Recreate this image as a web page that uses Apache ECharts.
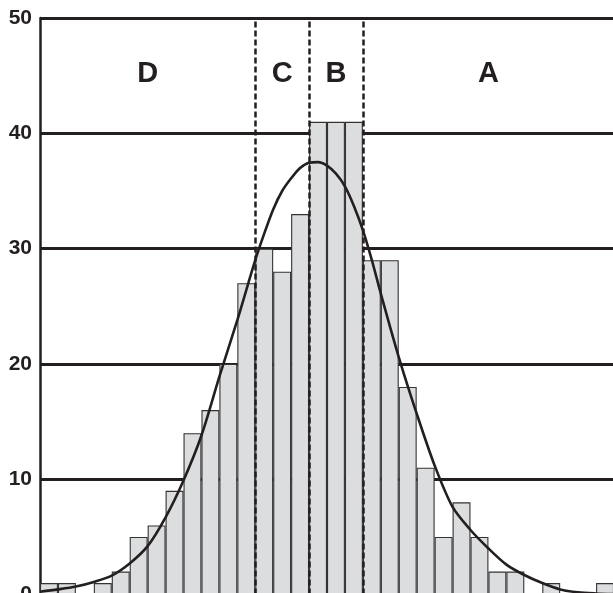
<!DOCTYPE html>
<html>
<head>
<meta charset="utf-8">
<script src="https://cdn.jsdelivr.net/npm/echarts@6/dist/echarts.min.js"></script>
<style>
html,body{margin:0;padding:0;background:#fff;}
#chart{width:613px;height:593px;}
</style>
</head>
<body>
<div id="chart"></div>
<script>
// Histogram counts per bin (32 bins)
const binCounts = [1,1,0,1,2,5,6,9,14,16,20,27,30,28,33,41,41,41,29,29,18,11,5,8,5,2,2,0,1,0,0,1];
// Fitted curve (x in bin units, y in counts)
const curveX = [0,1,2,3,4,5,6,7,8,9,10,11,12,12.5,13,13.5,14,14.5,15,15.5,16,16.5,17,17.5,18,18.5,19,20,21,22,23,24,25,26,27,28,29,30,31,32];
const curveY = [0.25,0.45,0.7,1.1,1.65,2.7,4.2,6.7,9.9,13.8,18.9,23.8,29.0,31.3,33.4,35.0,36.1,37.0,37.45,37.5,37.2,36.5,35.4,33.7,31.6,29.0,26.1,20.6,15.7,11.2,7.6,5.6,4.0,2.6,1.7,1.0,0.45,0.2,0.1,0.05];
// Zone boundaries (bin edges) and labels
const zoneBounds = [12,15,18];
const zoneLabels = ['D','C','B','A'];
const zoneLabelY = 45.15;
const yTicks = [0,10,20,30,40,50];

const nBins = binCounts.length;
const edges = [0].concat(zoneBounds, [nBins]);
const zoneCenters = zoneLabels.map((l,i)=>[(edges[i]+edges[i+1])/2, zoneLabelY, l]);

const ink = '#231f20';
const font = '"Liberation Sans", Arial, sans-serif';

const chart = echarts.init(document.getElementById('chart'), null, {renderer:'canvas'});
chart.setOption({
  animation:false,
  backgroundColor:'#ffffff',
  grid:{left:40, top:18, right:-1, bottom:-1.6, containLabel:false, outerBoundsMode:'none'},
  xAxis:[
    {type:'category', data:binCounts.map((_,i)=>i), boundaryGap:true, show:false},
    {type:'value', min:0, max:nBins, show:false}
  ],
  yAxis:{
    type:'value', min:yTicks[0], max:yTicks[yTicks.length-1], interval:10,
    axisLine:{show:true, lineStyle:{color:ink, width:2.5}},
    axisTick:{show:false},
    splitLine:{show:true, lineStyle:{color:ink, width:3}},
    axisLabel:{color:ink, fontFamily:font, fontWeight:'bold', fontSize:21, margin:8}
  },
  series:[
    {
      type:'line', xAxisIndex:1, data:[], z:1, silent:true,
      markLine:{
        silent:true, symbol:'none', label:{show:false},
        lineStyle:{color:ink, width:2.5, type:[6,3]},
        data: zoneBounds.map(b=>({xAxis:b}))
      }
    },
    {
      type:'bar', xAxisIndex:0, data:binCounts, barCategoryGap:'0%', z:3,
      itemStyle:{color:'#dcdddf', borderColor:'#333333', borderWidth:1.1}
    },
    {
      type:'line', xAxisIndex:1, data:curveX.map((x,i)=>[x,curveY[i]]),
      smooth:0.3, showSymbol:false, z:5,
      lineStyle:{color:ink, width:2.6}
    },
    {
      type:'scatter', xAxisIndex:1, data:zoneCenters, symbolSize:0, z:6,
      itemStyle:{opacity:1},
      label:{show:true, position:'inside', formatter:p=>p.data[2], opacity:1,
        color:ink, textBorderWidth:0, fontFamily:font, fontWeight:'bold', fontSize:29}
    }
  ]
});
</script>
</body>
</html>
